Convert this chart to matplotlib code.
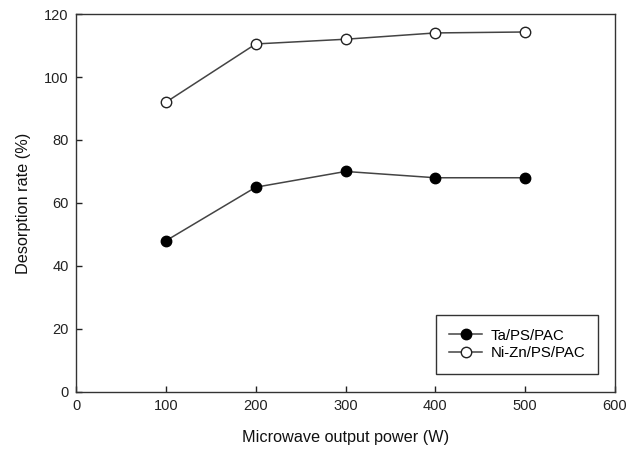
import matplotlib
matplotlib.use("Agg")
import matplotlib.pyplot as plt

plt.rcParams['font.family'] = ['Liberation Sans', 'DejaVu Sans']

power = [100, 200, 300, 400, 500]
ta_ps_pac = [48, 65, 70, 68, 68]
nizn_ps_pac = [92, 110.5, 112, 114, 114.3]
xticks = [0, 100, 200, 300, 400, 500, 600]
yticks = [0, 20, 40, 60, 80, 100, 120]

fig = plt.figure(figsize=(6.4, 4.53), dpi=100)
ax = fig.add_axes([0.119, 0.135, 0.842, 0.834])
lc = '#444444'
ax.plot(power, ta_ps_pac, '-o', color=lc, lw=1.1, markerfacecolor='black',
        markeredgecolor='black', markersize=7.5, label='Ta/PS/PAC')
ax.plot(power, nizn_ps_pac, '-o', color=lc, lw=1.1, markerfacecolor='white',
        markeredgecolor='#222222', markersize=7.5, markeredgewidth=1.0, label='Ni-Zn/PS/PAC')
ax.set_xlim(0, 600)
ax.set_ylim(0, 120)
ax.set_xticks(xticks)
ax.set_yticks(yticks)
ax.tick_params(direction='in', length=4, width=1, labelsize=10.5, colors='#222222', pad=5.5)
for s in ax.spines.values():
    s.set_color('#333333')
    s.set_linewidth(1.0)
ax.set_xlabel('Microwave output power (W)', fontsize=11.7, labelpad=12, color='#111111')
ax.set_ylabel('Desorption rate (%)', fontsize=11.7, labelpad=9, color='#111111')
leg = ax.legend(loc='lower right', bbox_to_anchor=(0.983, 0.028), fontsize=10.8,
                fancybox=False, edgecolor='#333333', framealpha=1, handlelength=2.2,
                borderpad=0.9, labelspacing=0.25, handletextpad=0.55)
leg.get_frame().set_linewidth(1.0)
fig.savefig('out.png', dpi=100)
